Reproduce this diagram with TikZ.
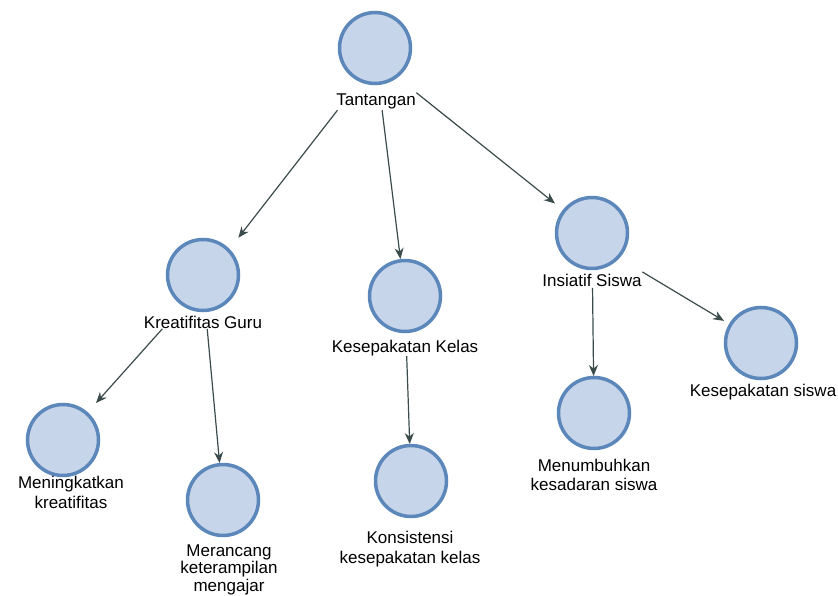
\documentclass[tikz,border=0pt]{standalone}
\usepackage{fontspec}
\setmainfont{Liberation Sans}
\usetikzlibrary{arrows.meta,fit}
\definecolor{discfill}{HTML}{C6D5EA}
\definecolor{discline}{HTML}{5B87BA}
\definecolor{arrcol}{HTML}{3B4B4B}
\begin{document}
\begin{tikzpicture}[x=1pt,y=-1pt,
 disc/.style={circle, draw=discline, fill=discfill, line width=3.5pt, minimum size=71pt, inner sep=0pt},
 lbl/.style={anchor=base, inner sep=0.5pt, align=center, font=\fontsize{17}{20}\selectfont},
 grp/.style={inner sep=0pt, outer sep=0pt, draw=none},
 tbox/.style={rectangle, minimum size=74pt, inner sep=0pt, outer sep=0pt, draw=none},
 arr/.style={draw=arrcol, line width=1.2pt, -{Stealth[length=11pt,width=9pt]}}]
\useasboundingbox (0,0) rectangle (838,596);
% circles
\node[disc] (tC) at (375,48) {};
\node[disc] (kC) at (203,275) {};
\node[disc] (kkC) at (405,296) {};
\node[disc] (koC) at (411,481) {};
\node[disc] (isC) at (592,233) {};
\node[disc] (ksC) at (761,343) {};
\node[disc] (meC) at (594,413) {};
\node[disc] (mkC) at (63,440) {};
\node[disc] (mrC) at (223,500) {};
% square target boxes round the circles
\node[tbox] (kkB) at (kkC) {};
\node[tbox] (koB) at (koC) {};
\node[tbox] (isB) at (isC) {};
\node[tbox] (ksB) at (ksC) {};
\node[tbox] (meB) at (meC) {};
\node[tbox] (mkB) at (mkC) {};
\node[tbox] (mrB) at (mrC) {};
% labels
\node[lbl] (tL) at (376,106) {Tantangan};
\node[lbl] (kL) at (203,328) {Kreatifitas Guru};
\node[lbl] (kkL) at (405,352) {Kesepakatan Kelas};
\node[lbl] (koL) at (410,563) {Konsistensi\\kesepakatan kelas};
\node[lbl] (isL) at (592,287) {Insiatif Siswa};
\node[lbl] (ksL) at (763,396) {Kesepakatan siswa};
\node[lbl, font=\fontsize{17}{18.5}\selectfont] (meL) at (594,490) {Menumbuhkan\\kesadaran siswa};
\node[lbl, font=\fontsize{17}{19.5}\selectfont] (mkL) at (71,508) {Meningkatkan\\kreatifitas};
\node[lbl, font=\fontsize{17}{17.5}\selectfont] (mrL) at (229,591) {Merancang\\keterampilan\\mengajar};
% groups
\node[grp, fit=(tC)(tL)] (tG) {};
\node[grp, fit=(kC)(kL)] (kG) {};
\node[grp, fit=(kkC)(kkL)] (kkG) {};
\node[grp, fit=(isC)(isL)] (isG) {};
% connectors
\draw[arr] (tG) -- (kG);
\draw[arr] (tG) -- (kkB);
\draw[arr] (tG) -- (isB);
\draw[arr] (kG) -- (mkB);
\draw[arr] (kG) -- (mrB);
\draw[arr] (kkG) -- (koB);
\draw[arr] (isG) -- (meB);
\draw[arr] (isG) -- (ksB);
\end{tikzpicture}
\end{document}
